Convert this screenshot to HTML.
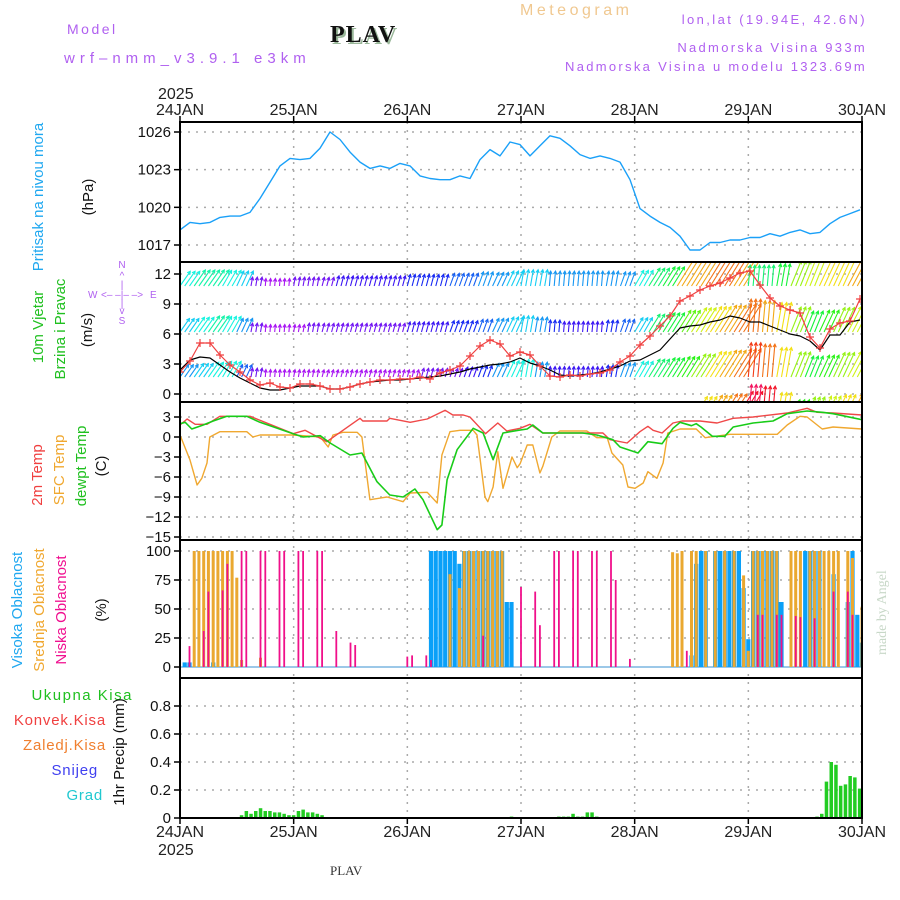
<!DOCTYPE html>
<html><head><meta charset="utf-8">
<style>
html,body{margin:0;padding:0;background:#fff;}
#wrap{position:relative;width:900px;height:900px;overflow:hidden;font-family:"Liberation Sans",sans-serif;}
svg text{font-family:"Liberation Sans",sans-serif;}
</style></head>
<body>
<div id="wrap">
<svg id="chart" width="900" height="900" viewBox="0 0 900 900" xmlns="http://www.w3.org/2000/svg">
<defs>
<clipPath id="c1"><rect x="180" y="122" width="682" height="140"/></clipPath>
<clipPath id="c2"><rect x="180" y="262" width="682" height="140"/></clipPath>
<clipPath id="c3"><rect x="180" y="402" width="682" height="138"/></clipPath>
<clipPath id="c4"><rect x="180" y="540" width="682" height="138"/></clipPath>
<clipPath id="c5"><rect x="180" y="678" width="682" height="140"/></clipPath>
</defs>
<g id="titles">
<text x="67" y="34" font-size="14" fill="#b060f0" letter-spacing="2.5">Model</text>
<text x="64" y="63" font-size="15" fill="#b060f0" letter-spacing="5">wrf‒nmm_v3.9.1 e3km</text>
<text x="332" y="44" font-size="24" font-weight="bold" fill="#9ab89a" letter-spacing="1" style="font-family:'Liberation Serif',serif">PLAV</text>
<text x="330" y="42" font-size="24" font-weight="bold" fill="#111" letter-spacing="1" style="font-family:'Liberation Serif',serif">PLAV</text>
<text x="520" y="15" font-size="16" fill="#f0c890" letter-spacing="3.5">Meteogram</text>
<text x="867" y="24" font-size="13" fill="#b060f0" text-anchor="end" letter-spacing="2.4">lon,lat (19.94E, 42.6N)</text>
<text x="867" y="52" font-size="13" fill="#b060f0" text-anchor="end" letter-spacing="2.3">Nadmorska Visina 933m</text>
<text x="867" y="71" font-size="13" fill="#b060f0" text-anchor="end" letter-spacing="2.3">Nadmorska Visina u modelu 1323.69m</text>
<text x="158" y="99" font-size="16" fill="#222">2025</text>
<text x="158" y="855" font-size="16" fill="#222">2025</text>
<text x="330" y="875" font-size="13" fill="#333" style="font-family:'Liberation Serif',serif">PLAV</text>
<text transform="translate(886,655) rotate(-90)" font-size="14" fill="#c8d8c8" style="font-family:'Liberation Serif',serif">made by Angel</text>
</g>
<g id="leftlabels" font-size="15">
<text transform="translate(43,197) rotate(-90)" text-anchor="middle" fill="#20a8f0">Pritisak na nivou mora</text>
<text transform="translate(93,197) rotate(-90)" text-anchor="middle" fill="#111">(hPa)</text>
<text transform="translate(43,327) rotate(-90)" text-anchor="middle" fill="#20c020">10m Vjetar</text>
<text transform="translate(65,329) rotate(-90)" text-anchor="middle" fill="#20c020">Brzina i Pravac</text>
<text transform="translate(92,330) rotate(-90)" text-anchor="middle" fill="#111">(m/s)</text>
<g fill="#b060f0" font-size="10">
<text x="122" y="268" text-anchor="middle">N</text>
<text x="122" y="279" text-anchor="middle">^</text>
<text x="122" y="288" text-anchor="middle">|</text>
<text x="88" y="298">W</text>
<text x="101" y="298">&lt;‒ ‒|‒ ‒&gt;</text>
<text x="150" y="298">E</text>
<text x="122" y="307" text-anchor="middle">|</text>
<text x="122" y="314" text-anchor="middle">v</text>
<text x="122" y="324" text-anchor="middle">S</text>
</g>
<text transform="translate(42,475) rotate(-90)" text-anchor="middle" fill="#f04040">2m Temp</text>
<text transform="translate(64,470) rotate(-90)" text-anchor="middle" fill="#f0a830">SFC Temp</text>
<text transform="translate(86,466) rotate(-90)" text-anchor="middle" fill="#20c020">dewpt Temp</text>
<text transform="translate(106,466) rotate(-90)" text-anchor="middle" fill="#111">(C)</text>
<text transform="translate(22,610) rotate(-90)" text-anchor="middle" fill="#20a8f0">Visoka Oblacnost</text>
<text transform="translate(44,610) rotate(-90)" text-anchor="middle" fill="#f0a830">Srednja Oblacnost</text>
<text transform="translate(66,610) rotate(-90)" text-anchor="middle" fill="#f01090">Niska Oblacnost</text>
<text transform="translate(106,610) rotate(-90)" text-anchor="middle" fill="#111">(%)</text>
<text x="133" y="700" text-anchor="end" fill="#20c020" letter-spacing="1.5">Ukupna Kisa</text>
<text x="106" y="725" text-anchor="end" fill="#f04040" letter-spacing="0.8">Konvek.Kisa</text>
<text x="106" y="750" text-anchor="end" fill="#f08030" letter-spacing="0.8">Zaledj.Kisa</text>
<text x="98" y="775" text-anchor="end" fill="#4040f0" letter-spacing="0.8">Snijeg</text>
<text x="103" y="800" text-anchor="end" fill="#20c8d0" letter-spacing="0.8">Grad</text>
<text transform="translate(124,752) rotate(-90)" text-anchor="middle" fill="#111">1hr Precip (mm)</text>
</g>
<g id="plot"></g>
</svg>
</div>
<script>
// ---------- DATA ----------
const dayLabels = ["24JAN","25JAN","26JAN","27JAN","28JAN","29JAN","30JAN"];
const pTicks = [1026,1023,1020,1017];
const wTicks = [12,9,6,3,0];
const tTicks = [3,0,-3,-6,-9,-12,-15];
const cTicks = [100,75,50,25,0];
const rTicks = [0.8,0.6,0.4,0.2,0];
const rTickLabels = ["0.8","0.6","0.4","0.2","0"];

// grid of 69 times (hours from 24JAN 00)
const gridHours = Array.from({length:69},(_,i)=>i*144/68.2);
const pressure = [1018.2,1018.8,1018.7,1018.8,1019.2,1019.3,1019.3,1019.6,1020.7,1022.0,
1023.3,1023.9,1023.8,1023.9,1024.7,1026.0,1025.4,1024.4,1023.6,1023.1,
1023.3,1023.1,1023.5,1023.3,1022.5,1022.3,1022.2,1022.2,1022.5,1022.3,
1023.8,1024.6,1024.1,1025.2,1025.0,1024.1,1024.9,1025.7,1025.5,1024.9,
1024.2,1023.9,1024.1,1023.9,1023.6,1022.2,1019.9,1019.3,1018.8,1018.4,
1017.7,1016.6,1016.6,1017.2,1017.2,1017.4,1017.4,1017.6,1017.6,1017.9,
1017.7,1018.0,1018.2,1017.9,1018.0,1018.7,1019.2,1019.5,1019.8];
const windRed = [2.2,3.3,5.1,5.1,3.9,2.9,2.2,1.4,0.9,1.1,
0.7,0.6,1.0,1.0,0.8,0.5,0.5,0.7,1.0,1.2,
1.4,1.4,1.5,1.5,1.7,1.5,2.1,2.4,2.8,3.8,
4.8,5.4,5.0,3.8,4.2,3.9,2.8,1.8,1.7,1.9,
1.8,2.0,2.1,2.4,3.2,3.8,4.9,5.8,6.8,7.8,
9.3,9.8,10.4,10.8,11.1,11.6,12.1,12.3,10.9,9.6,
8.8,8.4,8.1,5.7,4.6,6.5,7.1,7.3,9.5];
const windBlack = [2.4,3.4,3.7,3.6,2.9,2.2,1.6,1.1,0.6,0.4,
0.4,0.6,0.8,0.8,0.8,0.5,0.5,0.7,1.0,1.2,
1.3,1.4,1.4,1.5,1.6,1.7,1.8,2.0,2.2,2.5,
2.7,2.9,3.0,3.2,3.6,3.1,2.8,2.4,1.9,1.8,
1.9,2.0,2.2,2.5,2.8,3.3,3.4,3.9,4.4,5.5,
6.6,6.8,6.9,7.2,7.4,7.8,7.6,7.2,7.2,6.8,
6.4,6.0,5.8,5.3,4.4,5.9,5.9,7.2,7.4];

// wind arrows, 3-hourly, 4 height rows
const arrowHours = Array.from({length:49},(_,i)=>i*3);
const arrowRow1 = [6,6.5,6.5,6,5.5, 3,2.5,2.5, 3,3,3,3.5,3.5,3.5,3.5,3.5, 4,4,4,4.5,4.5,5,5,5.5, 5.5,5.5,5,5,5,5,5,5, 6,7,7.5, 10.5,10.5,11,11,10.5, 7,7,7.5, 9,9.5,10,10,10.5,10.5];
const arrowRow2 = [5.5,6,6.5,6,5, 3,2.5,2.5, 2.5,3,3,3,3,3,3,3, 3.5,3.5,3.5,4,4,4.5,5,5.5, 5.5,5,4,3.5,3.5,3.5,4,4.5, 5.5,7,7.5, 8.5,9.5,10,10.5,11, 11,10.5,10, 9,7.5,8,9,9.5,10];
const arrowRow3 = [5,5.5,6,6,4.5, 3,2.5,2.5, 2.5,2.5,2.5,2.5,2.5,2.5,2.5,2.5, 2.5,3,3,3,3.5,4,5,6, 6,5,3.5,3.5,3.5,3.5,4,5, 6,7,7.5, 8,9,10,10.5,11, 11.5,11,10, 9,7.5,8,9,9.5,10];
const arrowRow4 = [0,0,0,0,0,0,0,0,0,0,0,0,0,0,0,0,0,0,0,0,0,0,0,0,0,0,0,0,0,0,0,0,0,0,0,0, 10,10.5,11,12,12.5,12,10,8,9,9.5,10,10.5,10.5];
const arrowDir = [35,35,35,30,25, 10,5,5, 10,10,15,15,15,15,15,15, 15,15,15,20,20,20,25,25, 10,10,5,5,5,5,10,20, 30,32,32, 32,32,32,32,32, 5,5,10, 22,22,25,25,28,28];

// temperatures (hours, values)
const t2Hours = [0,1.5,3.2,5.7,8.4,14.8,23.9,26.4,31,38,38.6,43.7,44.3,48.6,52.2,56,57.6,59.8,61.2,64.5,67.1,69,71.8,73.9,76.6,89.3,90.8,94.4,97.1,98.8,99.9,101.8,104.1,106,109.8,113.4,116.8,121,128.2,132.4,134.5,137.9,144];
const t2 = [1.8,2.7,1.9,1.9,3.1,3.1,0.5,1.0,-0.7,2.8,2.4,2.4,2.8,2.2,2.7,4.0,3.3,3.3,3.0,0.5,2.1,0.9,1.3,1.9,0.6,0.6,-0.4,-0.9,0.8,1.6,1.0,0.6,2.1,2.4,2.4,2.1,2.8,3.0,3.6,4.3,3.7,3.6,3.3];
const sfcHours = [0,2.1,3.6,4.6,5.7,6.3,8.4,14.1,15.4,16.9,23.9,29.6,31.3,32.3,34.4,37.4,38.4,40.1,43.7,47.1,48.6,52.2,54.3,55.3,57,59.1,61.9,62.7,64.4,65,66.1,67.1,68.2,70.1,71.2,71.8,73.3,74.5,76,76.6,78.5,80.2,85.9,88,90.2,91.2,93.5,94.6,96.1,97.8,98.8,100.7,102,103,105.6,109,110.9,116.1,126.1,128.2,130.9,132.4,135.6,137.9,144];
const sfcTemp = [0.3,-3.4,-7.2,-6.2,-3.9,0,0.8,0.8,0,0.3,0.3,0,-1.5,0.3,0.7,0.7,0,-9.4,-9.0,-9.7,-8.4,-8.3,-9.9,-2.7,0.8,1.0,1.0,0.3,-9.0,-9.7,-7.5,-2.2,-7.7,-3.0,-4.6,-4.0,-1.2,-1.2,-5.4,-4.4,0,0.9,0.9,-0.1,-0.1,-2.4,-4.2,-7.5,-7.7,-6.9,-5.2,-6.2,-3.9,0.6,1.2,1.2,-0.1,0.4,0.4,1.8,3.1,3.0,1.2,1.5,1.2];
const dewHours = [0,1.1,2.5,4.9,7,9.9,14.1,16.9,23.9,26,29.6,31.7,35.9,38.4,41.6,44.3,47.1,49.6,51.3,54.3,55.3,56.4,58.5,61.9,64,66.1,68.2,71.4,73.3,74.5,76.6,85,88,91.4,92.9,96.7,98.8,101.8,104.1,105.6,108,109,110,112.4,115,116.8,121,125.2,128.2,132.4,135.6,137.9,144];
const dewTemp = [2.0,2.2,1.2,1.8,2.4,3.1,3.1,2.2,0.5,0,0.2,-0.9,-2.7,-2.4,-6.7,-8.7,-9.0,-7.8,-9.4,-13.9,-13.2,-6.4,-1.9,1.3,0.6,-3.4,0.6,1.0,1.2,1.8,0.6,0.6,0.3,-0.4,-1.5,-2.4,-0.7,-1.0,1.3,2.2,1.7,2.0,1.5,0.1,0.1,1.5,2.1,2.4,3.5,3.9,3.7,3.5,2.6];

// clouds (hour, %)
const highHours = [1,2,7,53,54,55,56,57,58,59,60,61,62,63,64,65,66,67,68,69,70,108,109,110,111,113,114,115,116,117,118,119,120,121,122,123,124,125,126,126.6,127,132,133,134,135,138,141,142,143,144];
const highCloud = [4,4,4,100,100,100,100,100,100,89,100,100,100,100,100,100,100,100,100,56,56,10,89,100,100,100,100,100,100,100,100,68,24,100,100,100,100,100,100,56,56,100,100,100,100,80,56,100,45,21];
const midHours = [3,4,5,6,7,8,9,10,11,12,13,17,57,59,60,61,62,63,64,65,66,67,68,104,105,106,108,109,111,113,115,117,119,120,121,122,123,124,125,126,129,130,131,133,134,135,136,137,138,139,141,142,144];
const midCloud = [100,100,100,100,100,100,100,100,100,77,6,8,80,68,100,100,100,100,100,100,100,100,100,99,98,100,100,100,100,100,100,100,79,14,100,100,100,100,100,100,100,100,100,100,100,100,100,100,100,100,100,94,52];
const lowHours = [2,5,6,9,10,13,14,17,18,21,22,25,26,29,30,33,36,37,48,49,52,53,64,72,75,76,79,80,83,84,87,88,91,92,95,107,122,123,126,127,130,131,134,138,141,142];
const lowCloud = [18,31,65,66,89,100,100,100,100,100,100,100,100,100,100,31,21,19,9,10,10,6,27,69,65,36,100,100,100,100,100,100,100,75,7,14,45,45,45,45,44,43,42,65,65,45];

// precipitation (hour, mm)
const precipHours = [13,14,15,16,17,18,19,20,21,22,23,24,25,26,27,28,29,30,70,80,81,82,83,84,85,86,87,88,134.5,135.5,136.5,137.5,138.5,139.5,140.5,141.5,142.5,143.5];
const precipTotal = [0.02,0.05,0.03,0.05,0.07,0.05,0.05,0.04,0.04,0.03,0.02,0.02,0.05,0.06,0.04,0.04,0.03,0.02,0.01,0.01,0.01,0.01,0.03,0.01,0.01,0.04,0.04,0.01,0.01,0.03,0.26,0.40,0.38,0.23,0.24,0.30,0.29,0.21];

// ---------- SCALES ----------
const X0=180, X1=862;
const xs = h => X0 + h*(X1-X0)/144;
const yP = v => 132 + (1026-v)*113/9;
const yW = v => 394 - v*10;
const yT = v => 437 - v*20/3;
const yC = v => 667 - v*1.16;
const yR = v => 818 - v*140;
const panels = [[122,262,'c1'],[262,402,'c2'],[402,540,'c3'],[540,678,'c4'],[678,818,'c5']];

const NS='http://www.w3.org/2000/svg';
const plot=document.getElementById('plot');
function mk(tag,attrs,parent){const e=document.createElementNS(NS,tag);for(const k in attrs)e.setAttribute(k,attrs[k]);(parent||plot).appendChild(e);return e;}
function grp(name,clip){const g=mk('g',clip?{'clip-path':'url(#'+clip+')'}:{});


return g;}

// grids
const gridG=grp('grid-lines');
function hgrid(ticks,f,labels,name){
  ticks.forEach((t,i)=>{const y=f(t);
    mk('line',{x1:X0,x2:X1,y1:y,y2:y,stroke:'#aaa','stroke-width':1.5,'stroke-dasharray':'2,6'},gridG);
    mk('line',{x1:X0-6,x2:X0,y1:y,y2:y,stroke:'#000','stroke-width':1.5},gridG);
    const tx=mk('text',{x:X0-9,y:y+5,'font-size':15,'text-anchor':'end',fill:'#111'},gridG);
    tx.textContent=labels?labels[i]:String(t).replace('-','−');
    
    
  });
}
hgrid(pTicks,yP,null,'pressure-tick');
hgrid(wTicks,yW,null,'wind-tick');
hgrid(tTicks,yT,null,'temp-tick');
hgrid(cTicks,yC,null,'cloud-tick');
hgrid(rTicks,yR,rTickLabels,'precip-tick');
dayLabels.forEach((d,i)=>{const x=xs(i*24);
  if(i>0&&i<6) mk('line',{x1:x,x2:x,y1:122,y2:818,stroke:'#aaa','stroke-width':1.5,'stroke-dasharray':'2,6'},gridG);
  mk('line',{x1:x,x2:x,y1:116,y2:122,stroke:'#000','stroke-width':1.5},gridG);
  mk('line',{x1:x,x2:x,y1:818,y2:824,stroke:'#000','stroke-width':1.5},gridG);
  const t1=mk('text',{x:x,y:115,'font-size':16,'text-anchor':'middle',fill:'#222'},gridG);t1.textContent=d;
  
  
  const t2e=mk('text',{x:x,y:837,'font-size':16,'text-anchor':'middle',fill:'#222'},gridG);t2e.textContent=d;
  
  
});

function line(hours,vals,f,color,w,clip,name){
  const g=grp(name,clip);
  const d=hours.map((h,i)=>(i?'L':'M')+xs(h).toFixed(1)+','+f(vals[i]).toFixed(1)).join('');
  const p=mk('path',{d:d,fill:'none',stroke:color,'stroke-width':w,'stroke-linejoin':'round'},g);
  
  
  return g;
}
// pressure
line(gridHours,pressure,yP,'#1aa0f8',1.4,'c1','pressure-series');

// wind arrows
function speedColor(s){let h=280-(s-2.5)*30; if(h<0)h+=360; return 'hsl('+h+',90%,52%)';}
const arrowsG=grp('wind-arrows','c2');
const rows=[[arrowRow1,286],[arrowRow2,332],[arrowRow3,377],[arrowRow4,422]];
rows.forEach((r,ri)=>{
  const speeds=r[0], base=r[1];
  arrowHours.forEach((h,i)=>{
    const s=speeds[i]; if(!s) return;
    const reps = i===arrowHours.length-1?1:3;
    for(let j=0;j<reps;j++){
      const x=xs(h+j), L=s*3, a=arrowDir[i]*Math.PI/180;
      const x2=x+L*Math.sin(a), y2=base-L*Math.cos(a);
      const c=speedColor(s);
      const ar=mk('path',{d:'M'+x.toFixed(1)+','+base+'L'+x2.toFixed(1)+','+y2.toFixed(1)+
        'M'+(x2-3.5*Math.sin(a+0.5)).toFixed(1)+','+(y2+3.5*Math.cos(a+0.5)).toFixed(1)+'L'+x2.toFixed(1)+','+y2.toFixed(1)+
        'L'+(x2-3.5*Math.sin(a-0.5)).toFixed(1)+','+(y2+3.5*Math.cos(a-0.5)).toFixed(1),
        fill:'none',stroke:c,'stroke-width':1.1},arrowsG);
      
      
    }
  });
});
line(gridHours,windBlack,yW,'#000',1.2,'c2','wind-gust-series');
const wr=line(gridHours,windRed,yW,'#f04040',1.2,'c2','wind-speed-series');
gridHours.forEach((h,i)=>{const x=xs(h),y=yW(windRed[i]);
  const m=mk('path',{d:'M'+(x-4)+','+y+'h8M'+x+','+(y-4)+'v8',stroke:'#f04040','stroke-width':1.2},wr);
  
  
});

// temperatures
line(sfcHours,sfcTemp,yT,'#f0a830',1.4,'c3','sfc-temp-series');
line(t2Hours,t2,yT,'#f04848',1.4,'c3','temp-2m-series');
line(dewHours,dewTemp,yT,'#18cc18',1.6,'c3','dewpoint-series');

// clouds
const baseC=grp('cloud-baseline','c4');
mk('line',{x1:X0,x2:X1,y1:yC(0),y2:yC(0),stroke:'#9cc8e8','stroke-width':2},baseC);
function bars(hours,vals,f,zero,color,w,clip,name){
  const g=grp(name,clip);
  hours.forEach((h,i)=>{const y=f(vals[i]);
    const b=mk('rect',{x:(xs(h)-w/2).toFixed(1),y:y.toFixed(1),width:w,height:Math.max(0,zero-y).toFixed(1),fill:color},g);
    
    
  });
}
bars(highHours,highCloud,yC,yC(0),'#0aa0f8',4.2,'c4','high-cloud');
bars(midHours,midCloud,yC,yC(0),'#eaa830',3,'c4','mid-cloud');
bars(lowHours,lowCloud,yC,yC(0),'#f0108a',1.8,'c4','low-cloud');

// precip
bars(precipHours,precipTotal,yR,yR(0),'#22cc22',3.5,'c5','precip-total');

// panel borders
const frame=grp('panel-frames');
panels.forEach(p=>{mk('rect',{x:X0,y:p[0],width:X1-X0,height:p[1]-p[0],fill:'none',stroke:'#000','stroke-width':2},frame);});
</script>
</body></html>
